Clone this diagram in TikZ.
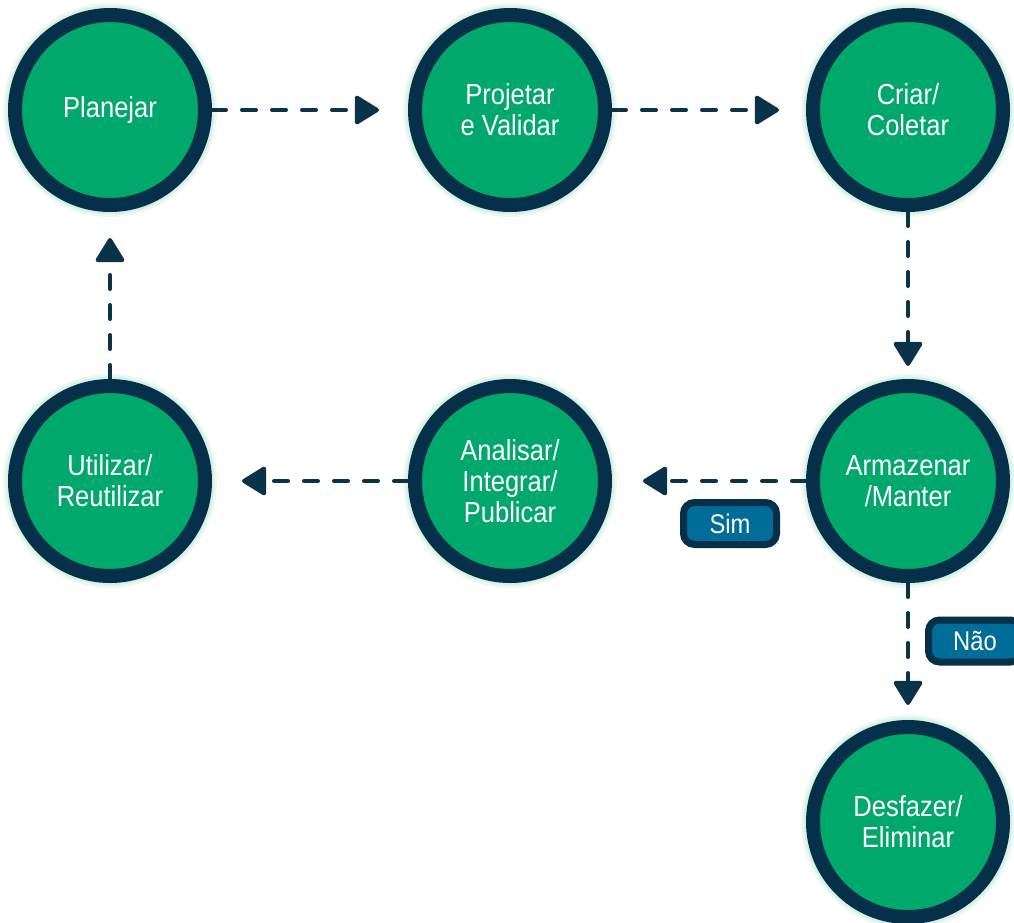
\documentclass[tikz,border=0pt]{standalone}
\usepackage{fontspec}
\setmainfont{Liberation Sans}[FakeStretch=0.88]
\usetikzlibrary{arrows.meta}
\definecolor{stagegreen}{RGB}{0,168,107}
\definecolor{ringnavy}{RGB}{6,48,74}
\definecolor{arrownavy}{RGB}{10,50,72}
\definecolor{tagblue}{RGB}{0,108,152}
\definecolor{glowc}{RGB}{200,236,220}
\tikzset{
  stage/.style={circle, draw=ringnavy, line width=14pt, fill=stagegreen,
    minimum size=190pt, inner sep=0pt, text=white, align=center,
    font=\fontsize{29}{31}\selectfont,
    preaction={draw=glowc, line width=24pt, opacity=0.35},
    preaction={draw=glowc, line width=19pt, opacity=0.6}},
  flow/.style={draw=arrownavy, line width=4pt, line cap=round,
    dash pattern=on 14pt off 16pt,
    -{Triangle[length=26pt,width=31pt,round]}},
  tag/.style={draw=ringnavy, line width=7pt, fill=tagblue, rounded corners=11pt,
    minimum width=93pt, minimum height=42pt, text=white, inner sep=0pt,
    font=\fontsize{27}{29}\selectfont}
}
\begin{document}
\begin{tikzpicture}[x=1pt,y=-1pt]
\useasboundingbox (0,0) rectangle (1014,922);
\node[stage] (plan) at (110,110) {Planejar};
\node[stage] (proj) at (510,110) {Projetar\\e Validar};
\node[stage] (criar) at (908,110) {Criar/\\Coletar};
\node[stage] (arm) at (908,481) {Armazenar\\/Manter};
\node[stage] (anal) at (510,481) {Analisar/\\Integrar/\\Publicar};
\node[stage] (util) at (110,481) {Utilizar/\\Reutilizar};
\node[stage] (desf) at (908,822) {Desfazer/\\Eliminar};
\draw[flow, shorten >=29pt] (plan.east) -- (proj.west);
\draw[flow, shorten >=27pt] (proj.east) -- (criar.west);
\draw[flow, shorten >=13pt] (criar.south) -- (arm.north);
\draw[flow, shorten >=31pt] (arm.west) -- (anal.east);
\draw[flow, shorten >=30pt] (anal.west) -- (util.east);
\draw[flow, shorten >=26pt] (util.north) -- (plan.south);
\draw[flow, shorten >=15pt] (arm.south) -- (desf.north);
\node[tag] (sim) at (730,523.5) {Sim};
\node[tag] (nao) at (975,641) {Não};
\end{tikzpicture}
\end{document}
